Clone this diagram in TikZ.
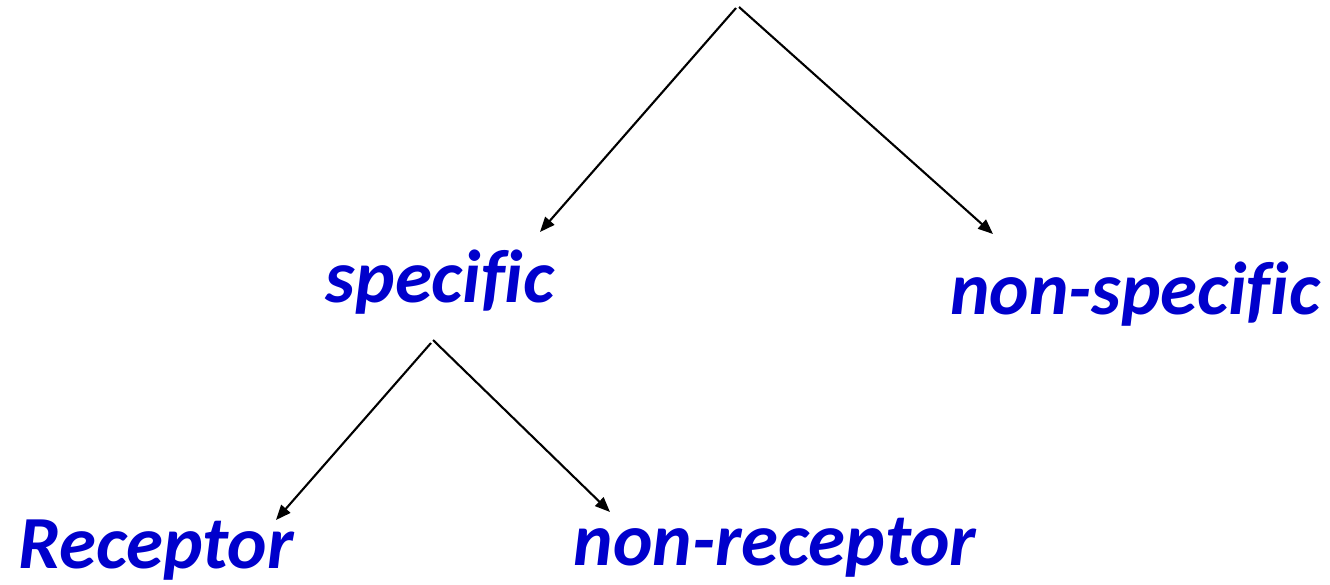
\documentclass[tikz,border=0pt]{standalone}
\usepackage{fontspec}
\setmainfont{Carlito}[Ligatures=NoCommon]
\usetikzlibrary{arrows.meta}
\definecolor{labelblue}{HTML}{0000CC}
\begin{document}
\begin{tikzpicture}[x=1pt,y=-1pt,
  label/.style={text=labelblue, font=\fontsize{75}{82}\selectfont\bfseries\itshape, inner sep=0pt, anchor=base},
  branch/.style={line width=2.1pt, -{Triangle[length=15pt,width=12pt]}}]
  \useasboundingbox (0,0) rectangle (1330,584);

  % labels
  \node[label] (spec)    at (440,302) {specific};
  \node[label] (nonspec) at (1135,314) {non-specific};
  \node[label] (rec)     at (156,568) {Receptor};
  \node[label] (nonrec)  at (775,565) {non-receptor};

  % branch points and arrow ends
  \coordinate (topL) at (736,8);
  \coordinate (topR) at (739,7);
  \coordinate (midL) at (431,343);
  \coordinate (midR) at (433,340);
  \coordinate (specTip) at (540,232);
  \coordinate (nonspecTip) at (993,234);
  \coordinate (recTip) at (276,520);
  \coordinate (nonrecTip) at (610,512);

  % connectors
  \draw[branch] (topL) -- (specTip);
  \draw[branch] (topR) -- (nonspecTip);
  \draw[branch] (midL) -- (recTip);
  \draw[branch] (midR) -- (nonrecTip);
\end{tikzpicture}
\end{document}
